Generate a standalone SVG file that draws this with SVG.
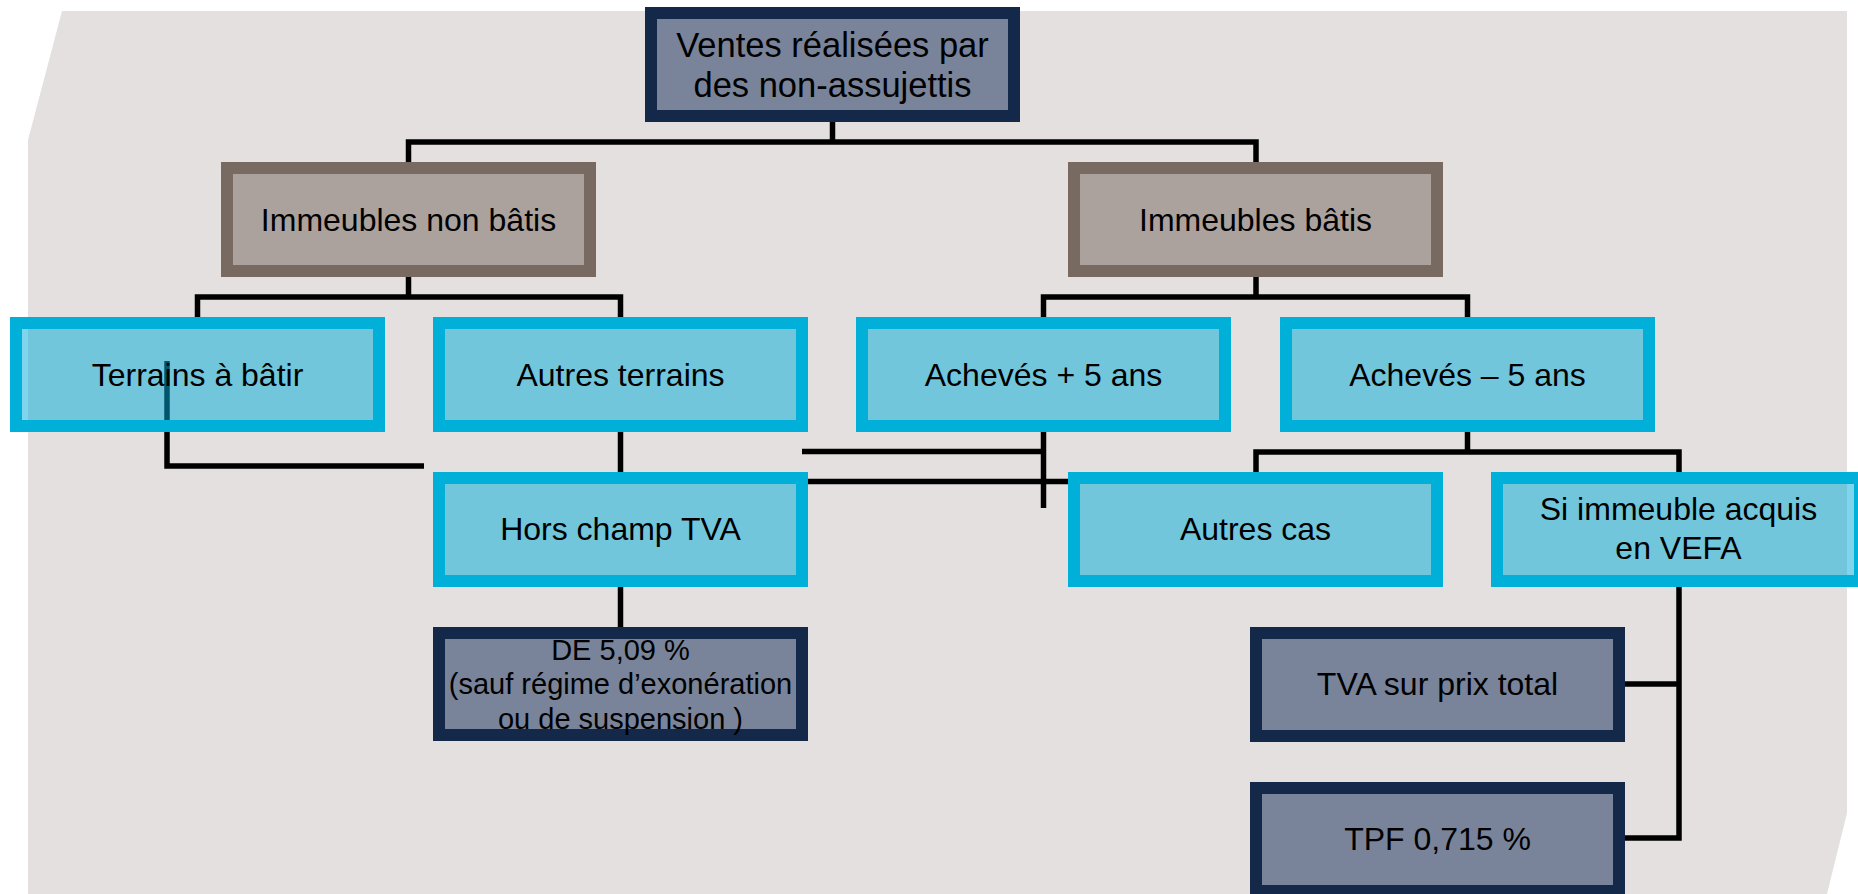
<svg xmlns="http://www.w3.org/2000/svg" width="1858" height="894" viewBox="0 0 1858 894">
<style>
.bg{fill:#e4e0df}
.navy rect{fill:#79849a;stroke:#142849;stroke-width:12}
.brown rect{fill:#aba29d;stroke:#786a61;stroke-width:12}
.cyan rect{fill:#00acd9;fill-opacity:0.5;stroke:#00b0d8;stroke-width:12}
text{font-family:"Liberation Sans",Arial,sans-serif;font-size:32px;fill:#000;text-anchor:middle}
.conn path{fill:none;stroke:#000;stroke-width:5.5;stroke-linejoin:miter;stroke-linecap:butt}
</style>
<rect width="1858" height="894" fill="#ffffff"/>
<path class="bg" d="M62,11 H1847 V813 L1827,894 H28 V140 Z"/>

<g id="connectors" class="conn">
<path d="M832.5,122 V142"/>
<path d="M408.5,162 V142 H1256 V162"/>
<path d="M408.5,277 V297"/>
<path d="M197.5,317 V297 H620.5 V317"/>
<path d="M1256,277 V297"/>
<path d="M1043.5,317 V297 H1467.5 V317"/>
<path d="M167,361 V466 H424"/>
<path d="M620.5,432 V472"/>
<path d="M620.5,587 V627"/>
<path d="M802,451.5 H1043.5"/>
<path d="M1043.5,432 V508"/>
<path d="M808,481.5 H1068"/>
<path d="M1467.5,432 V452"/>
<path d="M1256,472 V452 H1679 V472"/>
<path d="M1679,587 V838 H1625"/>
<path d="M1679,684 H1625"/>
</g>

<g id="n-ventes" class="navy"><rect x="651" y="13" width="363" height="103"/><text x="832.5" y="56.5" style="font-size:34.5px">Ventes réalisées par</text><text x="832.5" y="97" style="font-size:34.5px">des non-assujettis</text></g>
<g id="n-nonbatis" class="brown"><rect x="227" y="168" width="363" height="103"/><text x="408.5" y="231">Immeubles non bâtis</text></g>
<g id="n-batis" class="brown"><rect x="1074" y="168" width="363" height="103"/><text x="1255.5" y="231">Immeubles bâtis</text></g>
<g id="n-terrains-batir" class="cyan"><rect x="16" y="323" width="363" height="103"/><text x="197.5" y="386">Terrains à bâtir</text></g>
<g id="n-autres-terrains" class="cyan"><rect x="439" y="323" width="363" height="103"/><text x="620.5" y="386">Autres terrains</text></g>
<g id="n-acheves-plus" class="cyan"><rect x="862" y="323" width="363" height="103"/><text x="1043.5" y="386">Achevés + 5 ans</text></g>
<g id="n-acheves-moins" class="cyan"><rect x="1286" y="323" width="363" height="103"/><text x="1467.5" y="386">Achevés – 5 ans</text></g>
<g id="n-hors-champ" class="cyan"><rect x="439" y="478" width="363" height="103"/><text x="620.5" y="540">Hors champ TVA</text></g>
<g id="n-autres-cas" class="cyan"><rect x="1074" y="478" width="363" height="103"/><text x="1255.5" y="540">Autres cas</text></g>
<g id="n-vefa" class="cyan"><rect x="1497" y="478" width="363" height="103"/><text x="1678.5" y="520">Si immeuble acquis</text><text x="1678.5" y="559">en VEFA</text></g>
<g id="n-de" class="navy"><rect x="439" y="633" width="363" height="102"/><text x="620.5" y="660" style="font-size:29px">DE 5,09 %</text><text x="620.5" y="694" style="font-size:29px">(sauf régime d’exonération</text><text x="620.5" y="729" style="font-size:29px">ou de suspension )</text></g>
<g id="n-tva" class="navy"><rect x="1256" y="633" width="363" height="103"/><text x="1437.5" y="695">TVA sur prix total</text></g>
<g id="n-tpf" class="navy"><rect x="1256" y="788" width="363" height="103"/><text x="1437.5" y="850">TPF 0,715 %</text></g>
</svg>
